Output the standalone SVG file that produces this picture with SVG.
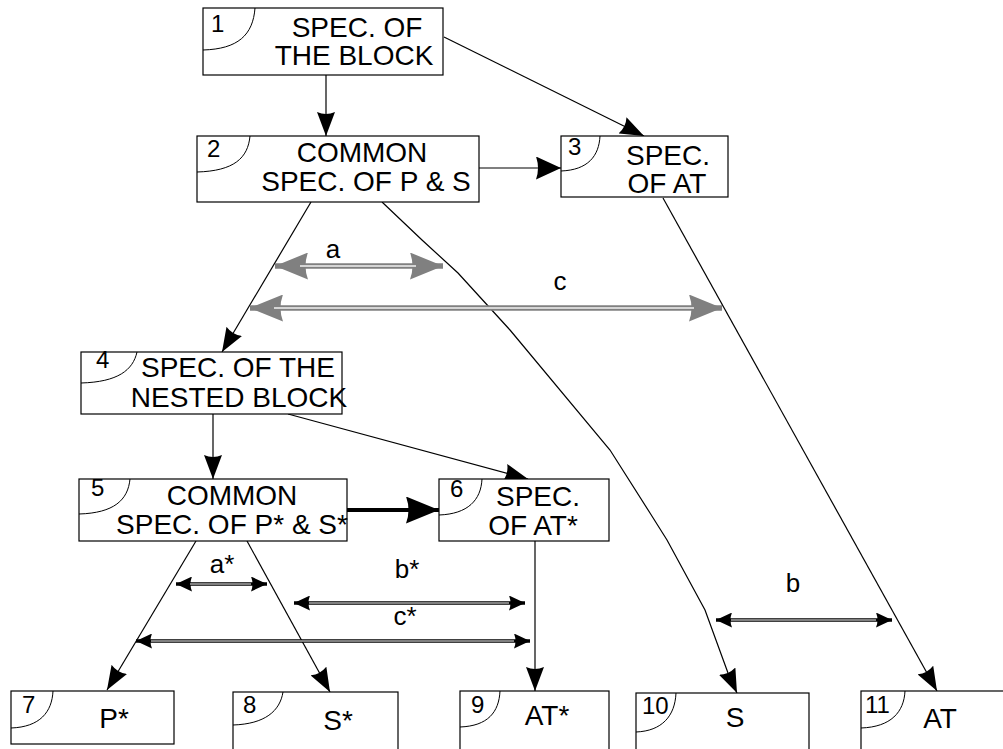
<svg xmlns="http://www.w3.org/2000/svg" width="1003" height="749" viewBox="0 0 1003 749">
<style>
.box{fill:#fff;stroke:#000;stroke-width:1.2}
.arc{fill:none;stroke:#000;stroke-width:1}
.t{font-family:"Liberation Sans",Arial,sans-serif;font-size:28px;text-anchor:middle;fill:#000}
.n{font-family:"Liberation Sans",Arial,sans-serif;font-size:24px;fill:#000}
.l{font-family:"Liberation Sans",Arial,sans-serif;font-size:26px;text-anchor:middle;fill:#000}
.ln{fill:none;stroke:#000;stroke-width:1.2}
.dbl{stroke:#000;stroke-width:3.5}
.dbli{stroke:#fff;stroke-width:1.2}
.gr{stroke:#808080;stroke-width:5.5}
.gri{stroke:#f2f2f2;stroke-width:1.6}
</style>
<defs>
<marker id="hs" markerUnits="userSpaceOnUse" markerWidth="24" markerHeight="18" refX="24" refY="9" orient="auto" viewBox="0 0 24 18"><path d="M0,0 L24,9 L0,18 Q4,9 0,0z" fill="#000"/></marker>
<marker id="hm" markerUnits="userSpaceOnUse" markerWidth="25" markerHeight="23" refX="25" refY="11.5" orient="auto" viewBox="0 0 25 23"><path d="M0,0 L25,11.5 L0,23 Q4,11.5 0,0z" fill="#000"/></marker>
<marker id="hl" markerUnits="userSpaceOnUse" markerWidth="33" markerHeight="27" refX="33" refY="13.5" orient="auto" viewBox="0 0 33 27"><path d="M0,0 L33,13.5 L0,27 Q5,13.5 0,0z" fill="#000"/></marker>
<marker id="hd" markerUnits="userSpaceOnUse" markerWidth="16" markerHeight="15" refX="16" refY="7.5" orient="auto-start-reverse" viewBox="0 0 16 15"><path d="M0,0 L16,7.5 L0,15 Q3,7.5 0,0z" fill="#000"/></marker>
<marker id="hg" markerUnits="userSpaceOnUse" markerWidth="33" markerHeight="27" refX="33" refY="13.5" orient="auto-start-reverse" viewBox="0 0 33 27"><path d="M0,0 L33,13.5 L0,27 Q5,13.5 0,0z" fill="#808080"/></marker>
</defs>

<g id="connectors">
<line class="ln" x1="326" y1="75" x2="326" y2="136" marker-end="url(#hs)"/>
<line class="ln" x1="444" y1="37" x2="644" y2="136" marker-end="url(#hs)"/>
<line class="ln" x1="479" y1="168" x2="561" y2="168" marker-end="url(#hm)"/>
<line class="ln" x1="311" y1="202" x2="222" y2="352" marker-end="url(#hs)"/>
<polyline class="ln" points="382,202 422,240 458,273 510,330 610,450 650,513 667,540 705,610 728,673 737,693" marker-end="url(#hs)"/>
<polyline class="ln" points="663,198 937,691" marker-end="url(#hs)"/>
<line class="ln" x1="213" y1="414" x2="213" y2="479" marker-end="url(#hs)"/>
<line class="ln" x1="288" y1="414" x2="528" y2="479" marker-end="url(#hs)"/>
<line x1="347" y1="510" x2="439" y2="510" stroke="#000" stroke-width="4" marker-end="url(#hl)"/>
<line class="ln" x1="535" y1="541" x2="535" y2="691" marker-end="url(#hs)"/>
<line class="ln" x1="196" y1="541" x2="107" y2="690" marker-end="url(#hs)"/>
<line class="ln" x1="247" y1="541" x2="330" y2="692" marker-end="url(#hs)"/>

<g id="arrow-a">
<line class="gr" x1="275" y1="266" x2="443" y2="266" marker-start="url(#hg)" marker-end="url(#hg)"/>
<line class="gri" x1="300" y1="266" x2="416" y2="266"/>
</g>
<g id="arrow-c">
<line class="gr" x1="250" y1="308" x2="722" y2="308" marker-start="url(#hg)" marker-end="url(#hg)"/>
<line class="gri" x1="274" y1="308" x2="694" y2="308"/>
</g>
<g id="arrow-astar">
<line class="dbl" x1="176" y1="584" x2="267" y2="584" marker-start="url(#hd)" marker-end="url(#hd)"/>
<line class="dbli" x1="190" y1="584" x2="251" y2="584"/>
</g>
<g id="arrow-bstar">
<line class="dbl" x1="294" y1="603" x2="525" y2="603" marker-start="url(#hd)" marker-end="url(#hd)"/>
<line class="dbli" x1="309" y1="603" x2="509" y2="603"/>
</g>
<g id="arrow-cstar">
<line class="dbl" x1="136" y1="641" x2="530" y2="641" marker-start="url(#hd)" marker-end="url(#hd)"/>
<line class="dbli" x1="151" y1="641" x2="514" y2="641"/>
</g>
<g id="arrow-b">
<line class="dbl" x1="716" y1="620" x2="892" y2="620" marker-start="url(#hd)" marker-end="url(#hd)"/>
<line class="dbli" x1="731" y1="620" x2="876" y2="620"/>
</g>
<text class="l" x="333" y="258">a</text>
<text class="l" x="560" y="290">c</text>
<text class="l" x="222" y="573">a*</text>
<text class="l" x="407" y="578">b*</text>
<text class="l" x="405" y="625">c*</text>
<text class="l" x="793" y="592">b</text>
</g>

<g id="node1">
<rect class="box" x="203" y="8" width="240" height="67"/>
<path class="arc" d="M255,8 C253,35 238,49 203,50"/>
<text class="n" x="211" y="32">1</text>
<text class="t" x="357" y="37">SPEC. OF</text>
<text class="t" x="354" y="65">THE BLOCK</text>
</g>
<g id="node2">
<rect class="box" x="197" y="136" width="282" height="66"/>
<path class="arc" d="M250,136 C248,158 234,171 197,172"/>
<text class="n" x="207" y="157">2</text>
<text class="t" x="362" y="162">COMMON</text>
<text class="t" x="366" y="191">SPEC. OF P &amp; S</text>
</g>
<g id="node3">
<rect class="box" x="561" y="136" width="167" height="61"/>
<path class="arc" d="M600,136 C599,156 588,170 561,171"/>
<text class="n" x="568" y="155">3</text>
<text class="t" x="668" y="165">SPEC.</text>
<text class="t" x="667" y="193">OF AT</text>
</g>
<g id="node4">
<rect class="box" x="81" y="352" width="261" height="62"/>
<path class="arc" d="M137,352 C133,370 118,382 81,383"/>
<text class="n" x="96" y="368">4</text>
<text class="t" x="238" y="377">SPEC. OF THE</text>
<text class="t" x="239" y="407">NESTED BLOCK</text>
</g>
<g id="node5">
<rect class="box" x="79" y="479" width="268" height="62"/>
<path class="arc" d="M130,479 C128,500 114,513 79,514"/>
<text class="n" x="91" y="496">5</text>
<text class="t" x="232" y="505">COMMON</text>
<text class="t" x="232" y="534">SPEC. OF P* &amp; S*</text>
</g>
<g id="node6">
<rect class="box" x="439" y="479" width="170" height="62"/>
<path class="arc" d="M482,479 C481,500 468,514 439,515"/>
<text class="n" x="450" y="497">6</text>
<text class="t" x="538" y="506">SPEC.</text>
<text class="t" x="533" y="535">OF AT*</text>
</g>
<g id="node7">
<rect class="box" x="11" y="691" width="163" height="53"/>
<path class="arc" d="M53,691 C52,712 40,727 11,728"/>
<text class="n" x="22" y="713">7</text>
<text class="t" x="114" y="728">P*</text>
</g>
<g id="node8">
<rect class="box" x="233" y="692" width="165" height="60"/>
<path class="arc" d="M283,692 C280,711 265,724 233,725"/>
<text class="n" x="243" y="713">8</text>
<text class="t" x="338" y="730">S*</text>
</g>
<g id="node9">
<rect class="box" x="460" y="691" width="149" height="61"/>
<path class="arc" d="M500,691 C499,712 488,726 460,727"/>
<text class="n" x="471" y="713">9</text>
<text class="t" x="547" y="725">AT*</text>
</g>
<g id="node10">
<rect class="box" x="636" y="693" width="173" height="60"/>
<path class="arc" d="M676,693 C675,716 662,731 636,732"/>
<text class="n" x="642" y="714">10</text>
<text class="t" x="735" y="727">S</text>
</g>
<g id="node11">
<rect class="box" x="861" y="691" width="150" height="61"/>
<path class="arc" d="M905,691 C904,712 891,727 861,728"/>
<text class="n" x="865" y="713">11</text>
<text class="t" x="940" y="728">AT</text>
</g>
</svg>
